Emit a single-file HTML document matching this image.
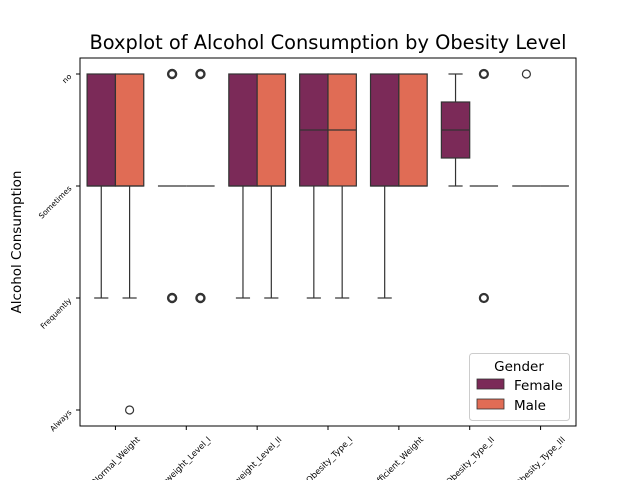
<!DOCTYPE html>
<html><head><meta charset="utf-8"><style>body{margin:0;background:#fff}svg text{font-family:"DejaVu Sans","Liberation Sans",sans-serif}</style></head>
<body>
<svg id="c" width="640" height="480" xmlns="http://www.w3.org/2000/svg">
<text x="328" y="49" text-anchor="middle" font-size="19.4">Boxplot of Alcohol Consumption by Obesity Level</text>
<text transform="translate(21,242) rotate(-90)" text-anchor="middle" font-size="13.5">Alcohol Consumption</text>
<g id="plot"></g>
<rect x="80" y="58" width="496" height="368" fill="none" stroke="#000" stroke-width="1"/>
<g>
<rect x="469.5" y="353.5" width="100" height="67" rx="3" fill="#fff" fill-opacity="0.8" stroke="#ccc"/>
<text x="519" y="371" text-anchor="middle" font-size="13.5">Gender</text>
<rect x="477" y="379" width="27" height="10" fill="#7b2a58" stroke="#333" stroke-width="0.8"/>
<text x="514" y="390" font-size="13.5">Female</text>
<rect x="477" y="399" width="27" height="10" fill="#e06c55" stroke="#333" stroke-width="0.8"/>
<text x="514" y="410" font-size="13.5">Male</text>
</g>
</svg>
<script>
const categories=["Normal_Weight","Overweight_Level_I","Overweight_Level_II","Obesity_Type_I","Insufficient_Weight","Obesity_Type_II","Obesity_Type_III"];
const yLabels=["no","Sometimes","Frequently","Always"];
const genders=["Female","Male"];
const colors=["#7b2a58","#e06c55"];
// [q1, median, q3, whiskerLow, whiskerHigh]
const femaleStats=[[0,1,1,0,2],[1,1,1,1,1],[0,1,1,0,2],[0,0.5,1,0,2],[0,1,1,0,2],[0.25,0.5,0.75,0,1],[1,1,1,1,1]];
const maleStats=[[0,1,1,0,2],[1,1,1,1,1],[0,1,1,0,2],[0,0.5,1,0,2],[0,1,1,0,1],[1,1,1,1,1],[1,1,1,1,1]];
const femaleOutliers=[[],[0,2],[],[],[],[],[0]];
const maleOutliers=[[3],[0,2],[],[],[],[0,2],[]];
const outlierWeight=[[1.2,1.2],[2.4,2.4],[1.2,1.2],[1.2,1.2],[1.2,1.2],[1.2,2.2],[1.2,1.2]];
const NS="http://www.w3.org/2000/svg";
const g=document.getElementById('plot');
const x0=80,x1=576,yTop=74,yStep=112;
const band=(x1-x0)/categories.length;
const xc=i=>x0+band*(i+0.5);
const y=v=>yTop+v*yStep;
function mk(t,a){const e=document.createElementNS(NS,t);for(const k in a)e.setAttribute(k,a[k]);g.appendChild(e);return e;}
yLabels.forEach((l,i)=>{
 const ln=mk('line',{x1:76,x2:80,y1:y(i),y2:y(i),stroke:'#000'});
 
 
 const t=mk('text',{transform:`translate(72,${y(i)+3}) rotate(-45)`,'text-anchor':'end','font-size':'7.6'});
 t.textContent=l;
 
 
});
categories.forEach((c,i)=>{
 const ln=mk('line',{x1:xc(i),x2:xc(i),y1:426,y2:430,stroke:'#000'});
 
 
 const t=mk('text',{transform:`translate(${xc(i)+25},${440}) rotate(-45)`,'text-anchor':'end','font-size':'8.3'});
 t.textContent=c;
 
 
});
const all=[femaleStats,maleStats],outs=[femaleOutliers,maleOutliers];
categories.forEach((c,i)=>{
 genders.forEach((gd,k)=>{
  const s=all[k][i];
  const w=band*0.4;
  const bx=xc(i)-band*0.4+k*w;
  const cx=bx+w/2;
  const q1=s[0],med=s[1],q3=s[2],lo=s[3],hi=s[4];
  if(lo<q1){const l=mk('line',{x1:cx,x2:cx,y1:y(lo),y2:y(q1),stroke:'#333','stroke-width':1.2});
   const cap=mk('line',{x1:cx-w/4,x2:cx+w/4,y1:y(lo),y2:y(lo),stroke:'#333','stroke-width':1.2});}
  if(hi>q3){const l=mk('line',{x1:cx,x2:cx,y1:y(q3),y2:y(hi),stroke:'#333','stroke-width':1.2});
   const cap=mk('line',{x1:cx-w/4,x2:cx+w/4,y1:y(hi),y2:y(hi),stroke:'#333','stroke-width':1.2});}
  const r=mk('rect',{x:bx,y:y(q1),width:w,height:Math.max(0,y(q3)-y(q1)),fill:colors[k],stroke:'#333','stroke-width':1.2});
  
  
  const m=mk('line',{x1:bx,x2:bx+w,y1:y(med),y2:y(med),stroke:'#333','stroke-width':1.2});
  
  
  outs[k][i].forEach(v=>{
   const o=mk('circle',{cx:cx,cy:y(v),r:4,fill:'none',stroke:'#333','stroke-width':outlierWeight[i][k]});
   
   
  });
 });
});
</script>
</body></html>
